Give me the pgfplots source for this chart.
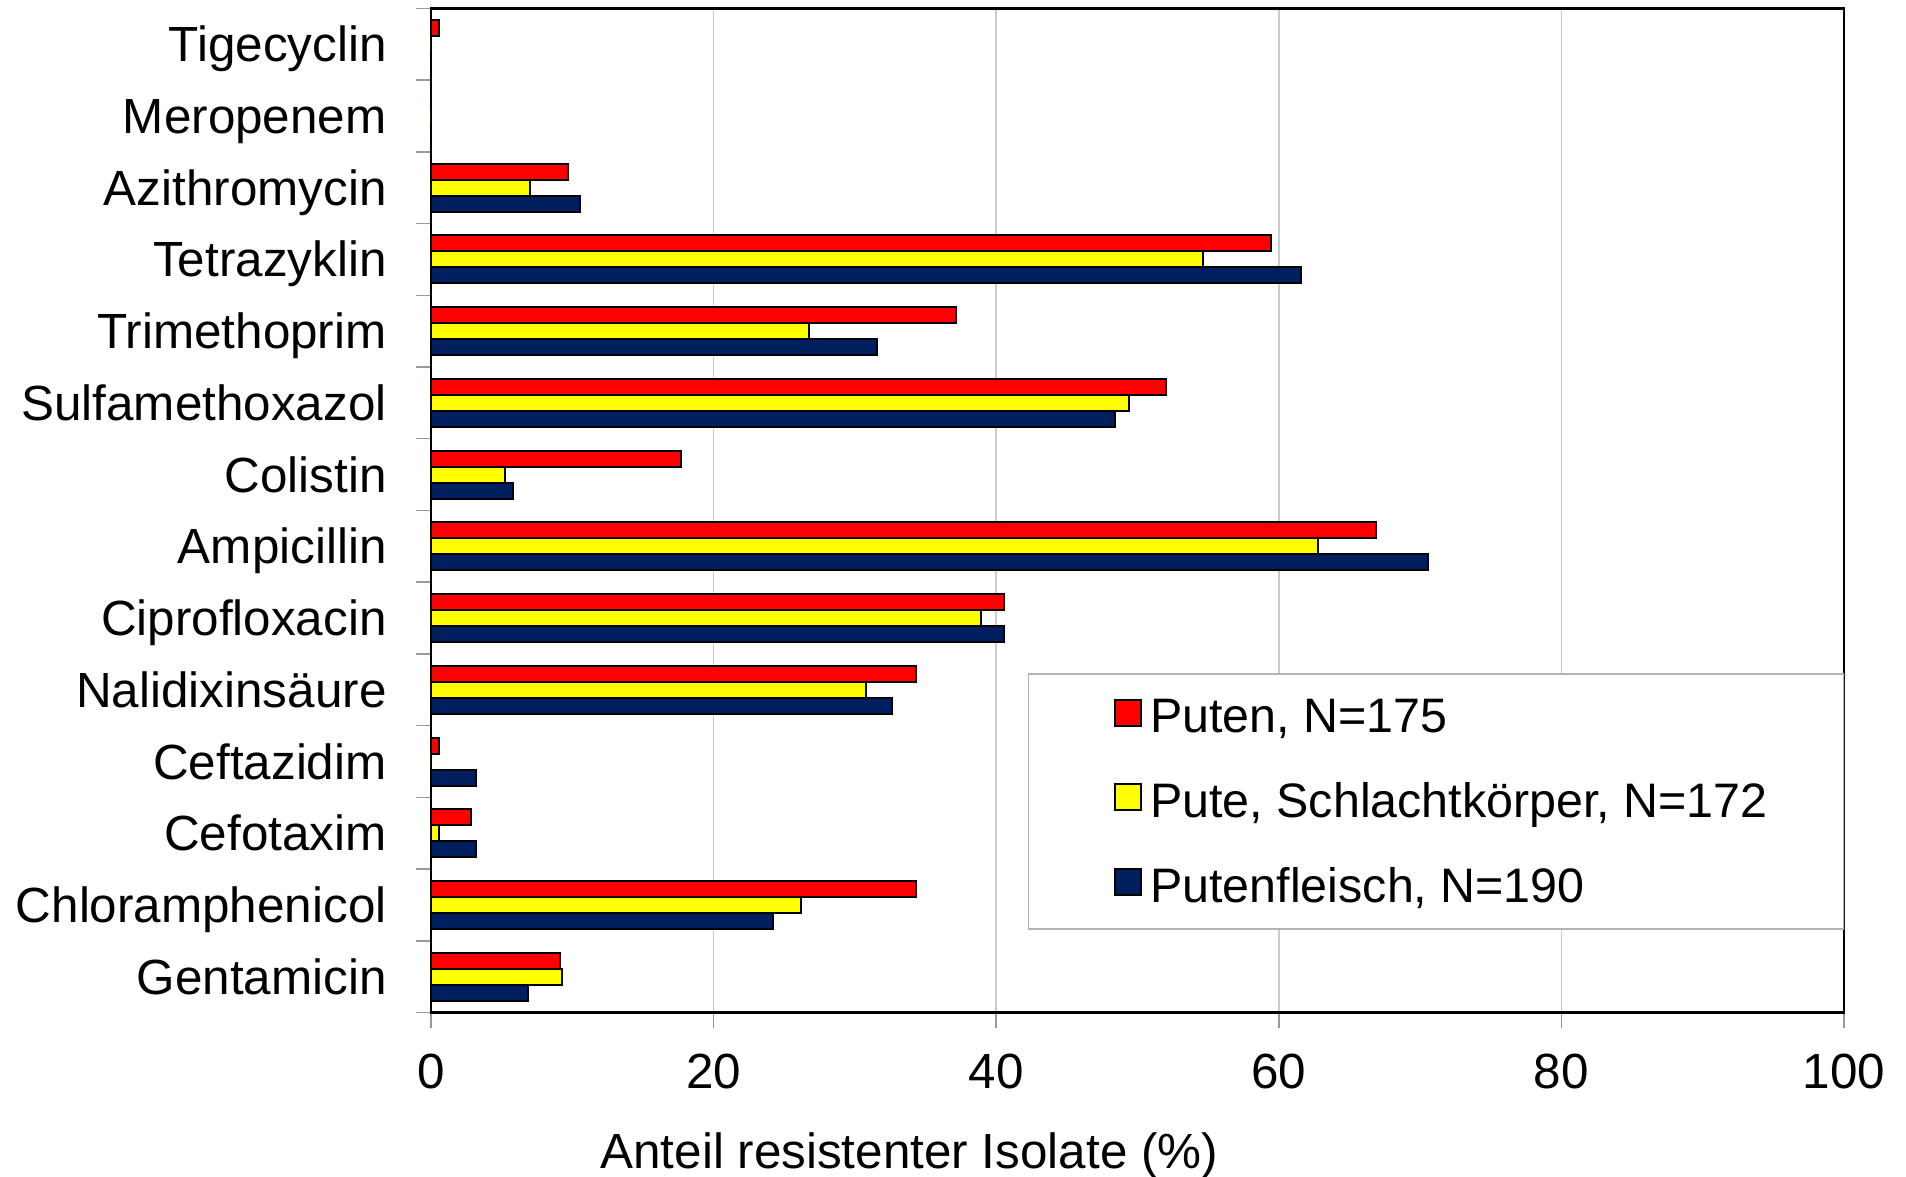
\documentclass[border=0pt]{standalone}
\usepackage{pgfplots}
\pgfplotsset{compat=1.18}
\usepackage{fontspec}
\setmainfont{Liberation Sans}
\definecolor{cRed}{RGB}{255,0,0}
\definecolor{cYel}{RGB}{255,255,0}
\definecolor{cNavy}{RGB}{0,31,94}
\newcommand{\bigfont}{\fontsize{24.7}{29}\selectfont}
\newcommand{\legfont}{\fontsize{24.2}{29}\selectfont}
\begin{document}
\begin{tikzpicture}
\useasboundingbox (-215.5pt,-82.15pt) rectangle (737.5pt,506.35pt);
\begin{axis}[
  at={(0,0)}, anchor=south west,
  scale only axis, width=706.5pt, height=502.2pt,
  xbar, bar width=8pt,
  xmin=0, xmax=100, ymin=-0.5, ymax=13.5,
  xtick={0,20,...,100},
  ytick={-0.5,0.5,...,13.5},
  yticklabels={Gentamicin,Chloramphenicol,Cefotaxim,Ceftazidim,Nalidixinsäure,Ciprofloxacin,Ampicillin,Colistin,Sulfamethoxazol,Trimethoprim,Tetrazyklin,Azithromycin,Meropenem,Tigecyclin,{}},
  tick align=outside,
  tick pos=left,
  major tick length=7.5pt,
  tick style={color=black!40, line width=0.75pt},
  xmajorgrids,
  major grid style={color=black!20, line width=0.9pt},
  axis line style={black, line width=1.3pt},
  /pgf/number format/assume math mode=true,
  tick label style={font=\bigfont},
  yticklabel style={inner sep=0pt, text height=17.5pt, text depth=0pt, anchor=east, xshift=-14.5pt, yshift=17.94pt},
  xticklabel style={inner sep=0pt, text height=17.5pt, text depth=0pt, anchor=north, yshift=-12.8pt},
  xlabel={Anteil resistenter Isolate (\%)},
  xlabel style={font=\bigfont, at={(axis description cs:0.3385,0)}, anchor=base, inner sep=0pt, yshift=-77.65pt},
  legend style={at={(axis description cs:0.483,0.3223)}, anchor=north west, draw=none, fill=none,
    inner sep=0pt, row sep=19pt, column sep=4.2pt, font=\legfont, nodes={inner sep=0pt}},
  legend cell align=left,
  legend image code/.code={\draw[#1,draw=black,line width=1pt] (0pt,-6.5pt) rectangle (13pt,6.5pt);},
]
\draw[black!30, line width=0.75pt, fill=white] (axis description cs:0.423,0.0833) rectangle (axis description cs:1,0.3372);
% Puten, N=175
\addplot[fill=cRed, draw=black, line width=1pt, bar shift=8pt] coordinates {
 (9.14,0) (34.29,1) (2.86,2) (0.57,3) (34.29,4) (40.57,5) (66.86,6)
 (17.71,7) (52.0,8) (37.14,9) (59.43,10) (9.71,11) (0,12) (0.57,13)};
\addlegendentry{\rule[-4.2pt]{0pt}{26pt}Puten, N=175}
% Pute, Schlachtkoerper, N=172
\addplot[fill=cYel, draw=black, line width=1pt, bar shift=0pt] coordinates {
 (9.30,0) (26.16,1) (0.58,2) (0,3) (30.81,4) (38.95,5) (62.79,6)
 (5.23,7) (49.42,8) (26.74,9) (54.65,10) (6.98,11) (0,12) (0,13)};
\addlegendentry{\rule[-4.2pt]{0pt}{26pt}Pute, Schlachtkörper, N=172}
% Putenfleisch, N=190
\addplot[fill=cNavy, draw=black, line width=1pt, bar shift=-8pt] coordinates {
 (6.84,0) (24.21,1) (3.16,2) (3.16,3) (32.63,4) (40.53,5) (70.53,6)
 (5.79,7) (48.42,8) (31.58,9) (61.58,10) (10.53,11) (0,12) (0,13)};
\addlegendentry{\rule[-4.2pt]{0pt}{26pt}Putenfleisch, N=190}
\end{axis}
\end{tikzpicture}
\end{document}
